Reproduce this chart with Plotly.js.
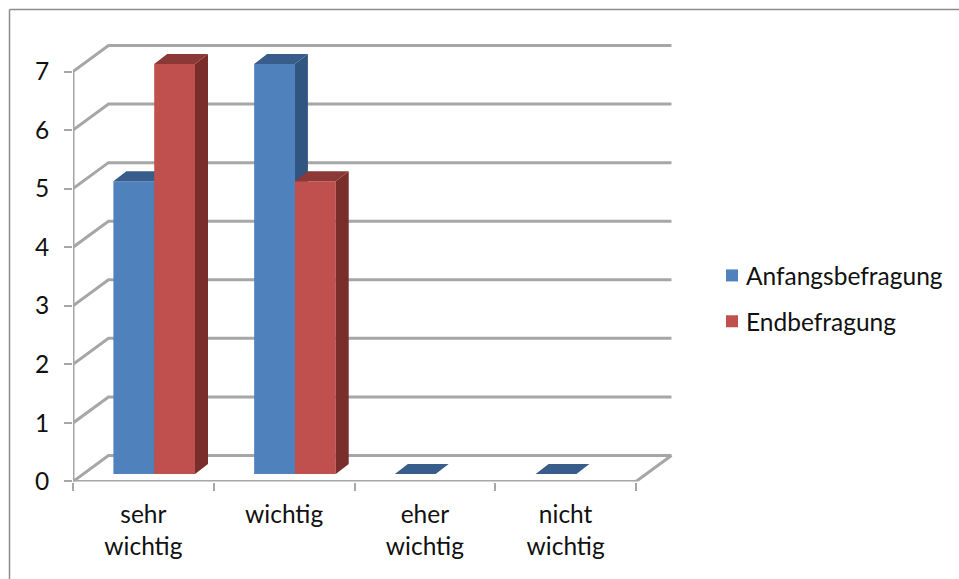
<!DOCTYPE html>
<html>
<head>
<meta charset="utf-8">
<script src="https://cdn.plot.ly/plotly-3.0.1.min.js"></script>
<style>html,body{margin:0;padding:0;background:#fff}#chart{width:959px;height:579px}</style>
</head>
<body>
<div id="chart"></div>
<script>
const categories = ['sehr<br>wichtig', 'wichtig', 'eher<br>wichtig', 'nicht<br>wichtig'];
const anfangsbefragung = [5, 7, 0, 0];
const endbefragung = [7, 5, 0, 0];
const yTicks = [0, 1, 2, 3, 4, 5, 6, 7];

// Pseudo-3D projection, expressed in axis units
const W = 959, H = 579;
const plotLeft = 73, plotBottom = 481.5, catPx = 140.75, unitPx = 58.57;
const wallDx = 0.252, wallDy = 0.444;     // offset of the back wall
const barDx = 0.092, barDy = 0.171;       // depth of one bar
const liftX = 0.077, liftY = 0.128;       // bars stand a little inside the floor
const barW = 0.29;
const xMax = 4.3, yMax = 7.6;

const gridColor = '#a6a6a6';
const fontFamily = 'Lato, "Open Sans", sans-serif';
const fontSize = 24.5;
const textColor = '#111111';

const nCat = categories.length;
const xRange = [0, xMax], yRange = [0, yMax];

// Back-wall grid lines and floor outline
const gridX = [], gridY = [];
yTicks.forEach(v => {
  gridX.push(0, wallDx, nCat + wallDx, null);
  gridY.push(v, v + wallDy, v + wallDy, null);
});
gridX.push(nCat, nCat + wallDx, null);
gridY.push(0, wallDy, null);

const frameX = [0, 0, null, 0, nCat];
const frameY = [yTicks[yTicks.length - 1], 0, null, 0, 0];

// Side and top faces of one series' bars
function faces(values, seriesOffset, keepEmpty) {
  const side = {x: [], y: []}, top = {x: [], y: []};
  values.forEach((v, i) => {
    if (v === 0 && !keepEmpty) return;
    const x0 = i + 0.5 + liftX + seriesOffset - barW / 2;
    const x1 = x0 + barW;
    const yt = v + liftY;
    side.x.push(x1, x1, x1 + barDx, x1 + barDx, x1, null);
    side.y.push(liftY, yt, yt + barDy, liftY + barDy, liftY, null);
    top.x.push(x0, x1, x1 + barDx, x0 + barDx, x0, null);
    top.y.push(yt, yt, yt + barDy, yt + barDy, yt, null);
  });
  return {side, top};
}

function faceTrace(pts, color, xa, ya) {
  return {
    type: 'scatter', mode: 'lines', x: pts.x, y: pts.y, xaxis: xa, yaxis: ya,
    fill: 'toself', fillcolor: color, line: {width: 0, color: color},
    hoverinfo: 'skip', showlegend: false, cliponaxis: false
  };
}

function barTrace(name, values, seriesOffset, color, xa, ya) {
  return {
    type: 'bar', name: name, legendgroup: name,
    x: values.map((_, i) => i + 0.5 + liftX + seriesOffset),
    y: values, base: liftY, width: barW,
    xaxis: xa, yaxis: ya,
    // Per-point zero outline keeps the bars exact while the legend key gets a thicker edge
    marker: {color: color, line: {width: values.map(() => 0), color: color}}
  };
}

const blueFaces = faces(anfangsbefragung, -barW / 2, true);
const redFaces = faces(endbefragung, barW / 2, false);

const traces = [
  {type: 'scatter', mode: 'lines', x: gridX, y: gridY, line: {color: gridColor, width: 3},
   hoverinfo: 'skip', showlegend: false, cliponaxis: false},
  {type: 'scatter', mode: 'lines', x: frameX, y: frameY, line: {color: gridColor, width: 3},
   hoverinfo: 'skip', showlegend: false, cliponaxis: false},
  barTrace('Anfangsbefragung', anfangsbefragung, -barW / 2, '#4f81bd', 'x2', 'y2'),
  faceTrace(blueFaces.side, '#2f5580', 'x2', 'y2'),
  faceTrace(blueFaces.top, '#385d8a', 'x2', 'y2'),
  barTrace('Endbefragung', endbefragung, barW / 2, '#c0504d', 'x3', 'y3'),
  faceTrace(redFaces.side, '#7a2e2b', 'x3', 'y3'),
  faceTrace(redFaces.top, '#8c3836', 'x3', 'y3')
];

const domX = [plotLeft / W, (plotLeft + xMax * catPx) / W];
const domY = [1 - plotBottom / H, 1 - (plotBottom - yMax * unitPx) / H];

const hiddenAxis = (range, dom, over) => ({
  range: range, domain: dom, overlaying: over, visible: false, fixedrange: true
});

const layout = {
  width: W, height: H,
  margin: {l: 0, r: 0, t: 0, b: 0},
  paper_bgcolor: '#ffffff', plot_bgcolor: 'rgba(0,0,0,0)',
  barmode: 'overlay',
  font: {family: fontFamily, size: fontSize, color: textColor},
  xaxis: {
    range: xRange, domain: domX, showgrid: false, zeroline: false, showline: false,
    tickmode: 'array', tickvals: categories.map((_, i) => i + 0.5), ticktext: categories,
    ticks: '', ticklabelstandoff: 16, fixedrange: true,
    minor: {tickmode: 'array', tickvals: [0, 1, 2, 3, 4], ticks: 'outside', ticklen: 8,
            tickwidth: 2, tickcolor: gridColor, showgrid: false},
    tickfont: {family: fontFamily, size: fontSize, color: textColor}
  },
  yaxis: {
    range: yRange, domain: domY, showgrid: false, zeroline: false, showline: false,
    tickmode: 'array', tickvals: yTicks, ticktext: yTicks.map(String),
    ticks: 'outside', ticklen: 8, tickwidth: 2, tickcolor: gridColor, fixedrange: true,
    ticklabelstandoff: 10,
    tickfont: {family: fontFamily, size: fontSize, color: textColor}
  },
  xaxis2: Object.assign(hiddenAxis(xRange, domX, 'x'), {anchor: 'y2'}),
  yaxis2: Object.assign(hiddenAxis(yRange, domY, 'y'), {anchor: 'x2'}),
  xaxis3: Object.assign(hiddenAxis(xRange, domX, 'x'), {anchor: 'y3'}),
  yaxis3: Object.assign(hiddenAxis(yRange, domY, 'y'), {anchor: 'x3'}),
  legend: {
    x: 706 / W, y: 1 - 253 / H, xanchor: 'left', yanchor: 'top',
    font: {family: fontFamily, size: fontSize, color: textColor},
    tracegroupgap: 11, bgcolor: 'rgba(0,0,0,0)', itemclick: false, itemdoubleclick: false
  },
  shapes: [
    {type: 'line', xref: 'paper', yref: 'paper', x0: 9.5 / W, x1: 1, y0: 1 - 9.5 / H, y1: 1 - 9.5 / H,
     line: {color: '#8c8c8c', width: 1.5}},
    {type: 'line', xref: 'paper', yref: 'paper', x0: 9.5 / W, x1: 9.5 / W, y0: 0, y1: 1 - 9.5 / H,
     line: {color: '#8c8c8c', width: 1.5}}
  ]
};

Plotly.newPlot('chart', traces, layout, {displayModeBar: false}).then(gd => {
  // Legend keys sit closer to their labels than the library's minimum item width allows
  gd.querySelectorAll('.legend .legendsymbols').forEach(g => g.setAttribute('transform', 'translate(6,0)'));
});
</script>
</body>
</html>
